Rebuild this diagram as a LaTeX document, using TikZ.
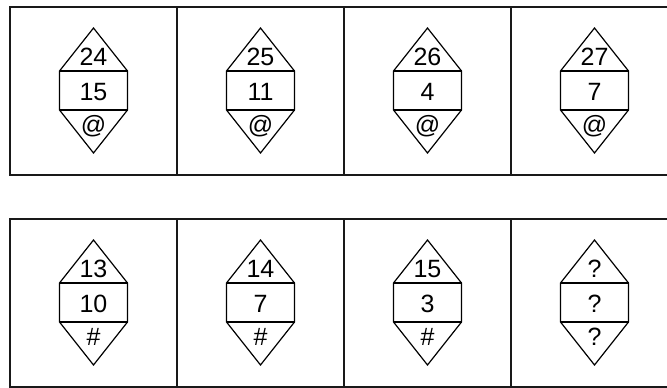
\documentclass[tikz,border=0pt]{standalone}
\usepackage{fontspec}
\setmainfont{Liberation Sans}
\begin{document}
\begin{tikzpicture}[x=1pt,y=-1pt,
  frame/.style={line width=2pt, draw=black!90},
  shapeline/.style={line width=1.2pt, line join=miter},
  lbl/.style={anchor=base, inner sep=0pt, font=\fontsize{25}{25}\selectfont}]
\useasboundingbox (0,0) rectangle (667,388);
\begin{scope}
\clip (0,0) rectangle (667,388);
% frames
\draw[frame] (10,7) rectangle (678,175);
\draw[frame] (10,219) rectangle (678,387);
\foreach \x in {177,344,511} {
  \draw[frame] (\x,7) -- (\x,175);
  \draw[frame] (\x,219) -- (\x,387);
}
% shapes
\foreach \cx/\cy/\a/\b/\c [count=\i] in {
  93.5/90.5/24/15/@, 260.5/90.5/25/11/@, 427.5/90.5/26/4/@, 594.5/90.5/27/7/@,
  93.5/302.5/13/10/\#, 260.5/302.5/14/7/\#, 427.5/302.5/15/3/\#, 594.5/302.5/?/?/?} {
  \draw[shapeline] (\cx,\cy-62.5) -- (\cx+34,\cy-19.5) -- (\cx+34,\cy+19.5) -- (\cx,\cy+62.5)
     -- (\cx-34,\cy+19.5) -- (\cx-34,\cy-19.5) -- cycle;
  \draw[shapeline] (\cx-34,\cy-19.5) -- (\cx+34,\cy-19.5);
  \draw[shapeline] (\cx-34,\cy+19.5) -- (\cx+34,\cy+19.5);
  \node[lbl] (top\i) at (\cx,\cy-25.5) {\a};
  \node[lbl] (mid\i) at (\cx,\cy+9.5) {\b};
  \node[lbl] (bot\i) at (\cx,\cy+42.5) {\c};
}
\end{scope}
\end{tikzpicture}
\end{document}
